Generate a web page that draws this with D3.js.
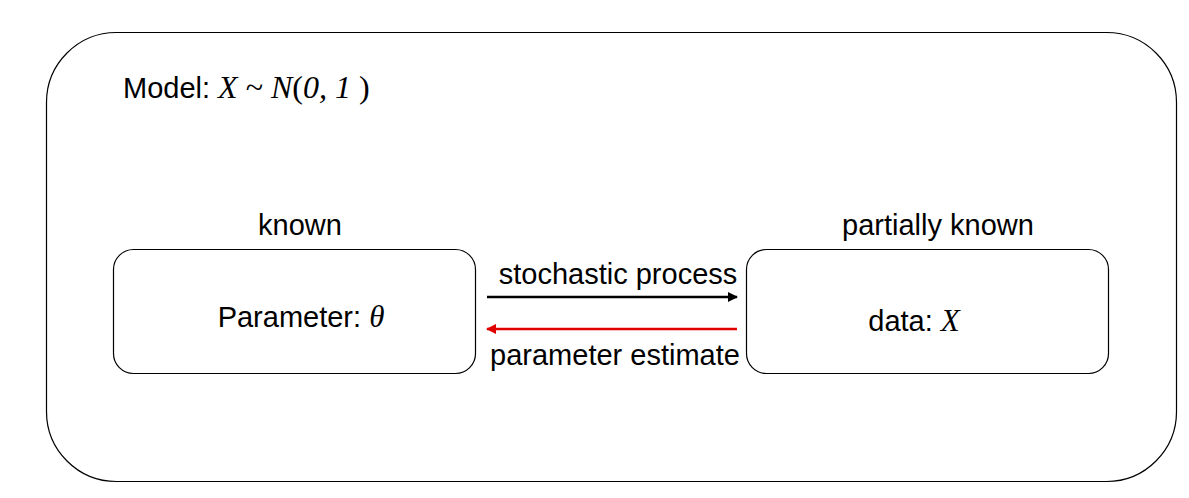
<!DOCTYPE html>
<html><head><meta charset="utf-8">
<script src="https://cdn.jsdelivr.net/npm/d3@7"></script>
<style>body{margin:0;background:#fff}</style></head>
<body><svg id="c" width="1189" height="498"></svg>
<script>
const boxTitles = ["known", "partially known"];
const boxLabels = [["Parameter: ", "θ"], ["data: ", "X"]];
const arrowLabels = ["stochastic process", "parameter estimate"];
const arrowColors = ["#000", "#e00000"];

const svg = d3.select("#c");
const sans = "Liberation Sans, Arial, sans-serif", serif = "Liberation Serif, Times New Roman, serif";
const fs = 29;

svg.append("rect").attr("x",46.5).attr("y",32.5).attr("width",1130).attr("height",449)
  .attr("rx",70).attr("fill","none").attr("stroke","#000").attr("stroke-width",1.2);

const m = svg.append("text").attr("x",123).attr("y",98).attr("font-family",sans).attr("font-size",fs);
m.append("tspan").text("Model: ");
const sf = (t, it) => m.append("tspan").attr("font-family",serif).attr("font-size",32).attr("font-style", it?"italic":null).text(t);
sf("X",1); sf(" ~ ",0); sf("N",1); sf("(",0); sf("0, 1",1); sf(" )",0);

const bx = [113.5, 746.5], bw = 362, by = 249.5, bh = 124;
const labelY = [327, 331], labelCX = [301, 914], titleCX = [300, 938];
boxTitles.forEach((t,i)=>{
  svg.append("rect").attr("x",bx[i]).attr("y",by).attr("width",bw).attr("height",bh)
    .attr("rx",20).attr("fill","#fff").attr("stroke","#000").attr("stroke-width",1.2);
  svg.append("text").attr("x",titleCX[i]).attr("y",235).attr("text-anchor","middle")
    .attr("font-family",sans).attr("font-size",fs).text(t);
  const tx = svg.append("text").attr("x",labelCX[i]).attr("y",labelY[i]).attr("text-anchor","middle")
    .attr("font-family",sans).attr("font-size",fs);
  tx.append("tspan").text(boxLabels[i][0]);
  tx.append("tspan").attr("font-family",serif).attr("font-size",31).attr("font-style","italic").text(boxLabels[i][1]);
});

const defs = svg.append("defs");
arrowColors.forEach((c,i)=>{
  defs.append("marker").attr("id","a"+i).attr("viewBox","0 0 10 10").attr("refX",9).attr("refY",5)
    .attr("markerWidth",4).attr("markerHeight",4).attr("orient","auto")
    .append("path").attr("d","M0,0L10,5L0,10z").attr("fill",c);
});
const ay = [297, 329], ax = [[487,737],[737,487]], ty = [284, 365];
arrowLabels.forEach((t,i)=>{
  svg.append("line").attr("x1",ax[i][0]).attr("x2",ax[i][1]).attr("y1",ay[i]).attr("y2",ay[i])
    .attr("stroke",arrowColors[i]).attr("stroke-width",2.5).attr("marker-end","url(#a"+i+")");
  svg.append("text").attr("x",i?615:618).attr("y",ty[i]).attr("text-anchor","middle")
    .attr("font-family",sans).attr("font-size",fs).text(t);
});
</script></body></html>
